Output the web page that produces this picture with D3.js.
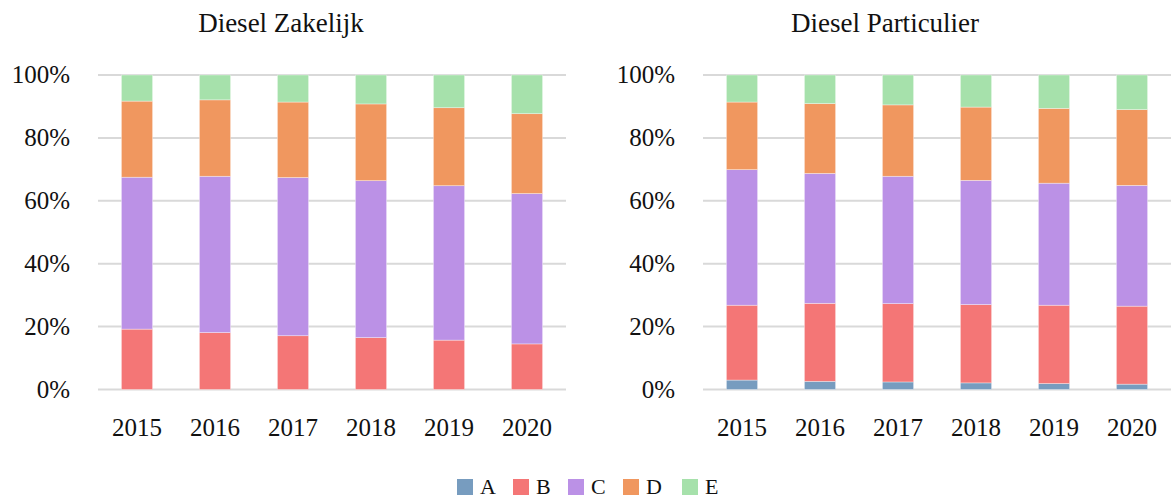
<!DOCTYPE html>
<html>
<head>
<meta charset="utf-8">
<script src="https://cdn.jsdelivr.net/npm/d3@7"></script>
<style>
  body { margin: 0; background: #fff; }
  text { font-family: "Liberation Serif", "DejaVu Serif", serif; fill: #111; }
</style>
</head>
<body>
<div id="chart"></div>
<script>
var years = ["2015", "2016", "2017", "2018", "2019", "2020"];
var keys = ["A", "B", "C", "D", "E"];
var colors = ["#779cbf", "#f47676", "#bb91e6", "#f0975f", "#a6e1ab"];
var yTicks = [0, 20, 40, 60, 80, 100];

// Diesel Zakelijk, share per label (%)
var zakA = [0, 0, 0, 0, 0, 0];
var zakB = [19.2, 18.1, 17.1, 16.5, 15.7, 14.5];
var zakC = [48.3, 49.7, 50.3, 49.9, 49.1, 47.8];
var zakD = [24.2, 24.3, 24.0, 24.4, 24.8, 25.4];
var zakE = [8.3, 7.9, 8.6, 9.2, 10.4, 12.3];

// Diesel Particulier
var parA = [3.0, 2.6, 2.4, 2.1, 1.9, 1.7];
var parB = [23.8, 24.8, 24.9, 24.9, 24.9, 24.8];
var parC = [43.1, 41.3, 40.5, 39.5, 38.8, 38.4];
var parD = [21.5, 22.2, 22.7, 23.3, 23.8, 24.1];
var parE = [8.6, 9.1, 9.5, 10.2, 10.6, 11.0];

var W = 1171, H = 499;
var svg = d3.select("#chart").append("svg")
    .attr("width", W)
    .attr("height", H);

function rows(a, b, c, d, e) {
  return years.map(function(y, i) {
    return {year: y, A: a[i], B: b[i], C: c[i], D: d[i], E: e[i]};
  });
}

var color = d3.scaleOrdinal().domain(keys).range(colors);

function drawPanel(title, data, x0, x1, titleX) {
  var g = svg.append("g");

  var x = d3.scaleBand()
    .domain(years)
    .range([x0, x1])
    .paddingInner(0.6)
    .paddingOuter(0.3);

  var y = d3.scaleLinear()
    .domain([0, 100])
    .range([389.5, 75]);

  // grid
  g.selectAll(".grid")
    .data(yTicks)
    .enter()
    .append("line")
      .attr("x1", x0)
      .attr("x2", x1)
      .attr("y1", function(d) { return y(d) })
      .attr("y2", function(d) { return y(d) })
      .attr("stroke", "#d9d9d9")
      .attr("stroke-width", 2);

  g.selectAll(".ytick")
    .data(yTicks)
    .enter()
    .append("text")
      .attr("x", x0 - 28)
      .attr("y", function(d) { return y(d) + 8 })
      .attr("text-anchor", "end")
      .style("font-size", "25px")
      .text(function(d) { return d + "%" });

  var series = d3.stack().keys(keys)(data);

  g.selectAll(".layer")
    .data(series)
    .enter()
    .append("g")
      .attr("fill", function(d) { return color(d.key) })
    .selectAll("rect")
    .data(function(d) { return d })
    .enter()
    .append("rect")
      .attr("x", function(d) { return x(d.data.year) })
      .attr("width", x.bandwidth())
      .attr("y", function(d) { return y(d[1]) })
      .attr("height", function(d) { return y(d[0]) - y(d[1]) })
      .attr("stroke", "rgba(255,255,255,0.5)")
      .attr("stroke-width", 0.7);

  g.selectAll(".xlab")
    .data(years)
    .enter()
    .append("text")
      .attr("x", function(d) { return x(d) + x.bandwidth() / 2 })
      .attr("y", 436)
      .attr("text-anchor", "middle")
      .style("font-size", "25px")
      .text(function(d) { return d });

  g.append("text")
    .attr("x", titleX)
    .attr("y", 32)
    .attr("text-anchor", "middle")
    .style("font-size", "27px")
    .text(title);
}

drawPanel("Diesel Zakelijk", rows(zakA, zakB, zakC, zakD, zakE), 98, 566, 281);
drawPanel("Diesel Particulier", rows(parA, parB, parC, parD, parE), 703, 1171, 885);

// legend
var legX = [457, 513, 568, 623, 682];
var leg = svg.append("g")
  .selectAll("g")
  .data(keys)
  .enter()
  .append("g")
    .attr("transform", function(d, i) { return "translate(" + legX[i] + ",479)" });

leg.append("rect")
  .attr("width", 16)
  .attr("height", 16)
  .attr("fill", function(d) { return color(d) });

leg.append("text")
  .attr("x", 23)
  .attr("y", 15)
  .style("font-size", "22px")
  .text(function(d) { return d });
</script>
</body>
</html>
